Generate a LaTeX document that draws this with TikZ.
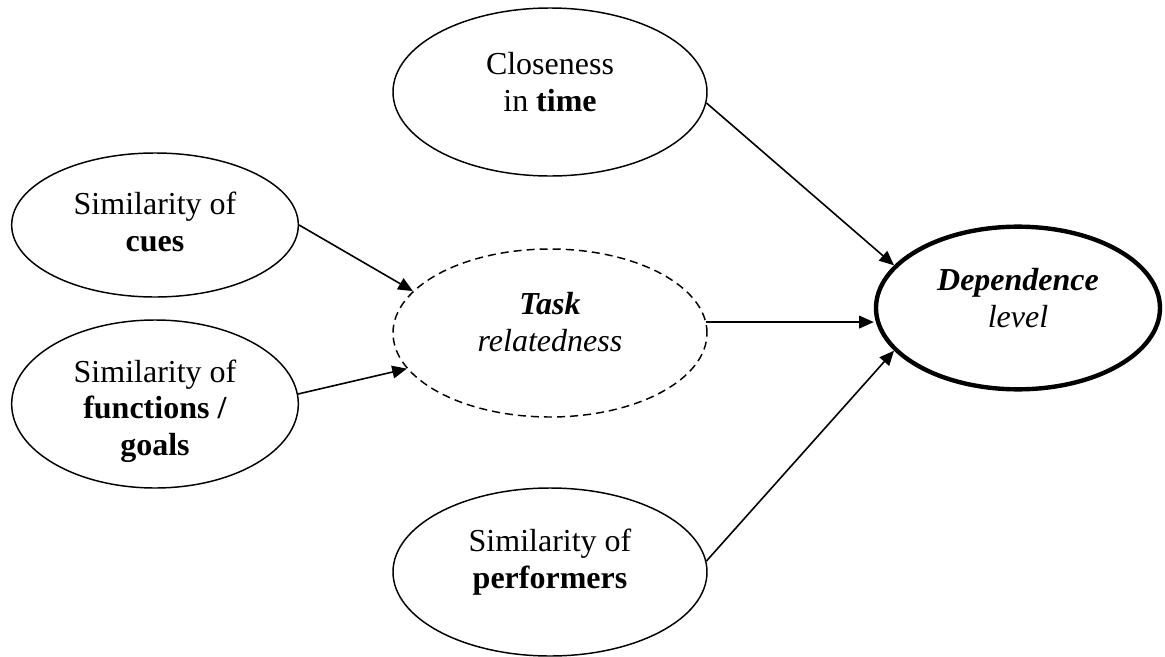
\documentclass[tikz,border=0pt]{standalone}
\usepackage{fontspec}
\setmainfont{Liberation Serif}
\usetikzlibrary{arrows.meta,shapes.geometric}
\begin{document}
\begin{tikzpicture}[x=0.75pt,y=-0.75pt,
  oval/.style={ellipse,draw,line width=1.1pt,inner sep=0pt},
  lbl/.style={align=center,font=\fontsize{24}{27.5}\selectfont,inner sep=0pt},
  conn/.style={line width=1.2pt,-{Triangle[length=11pt,width=9.5pt]}}]
\useasboundingbox (0,0) rectangle (1165,657);
% ellipses
\node[oval,minimum width=235.5pt,minimum height=126pt] (close) at (550,92) {};
\node[oval,minimum width=215pt,minimum height=108pt] (cues) at (155,225) {};
\node[oval,minimum width=215pt,minimum height=126pt] (func) at (155,404) {};
\node[oval,dash pattern=on 6pt off 3.8pt,minimum width=235.5pt,minimum height=126pt] (task) at (550,333) {};
\node[oval,line width=3.3pt,minimum width=213pt,minimum height=122pt] (dep) at (1018,308) {};
\node[oval,minimum width=235.5pt,minimum height=126pt] (perf) at (550,572) {};
% texts
\node[lbl] (closeT) at (550,82) {Closeness\\in \textbf{time}};
\node[lbl] (cuesT) at (155,222) {Similarity of\\\textbf{cues}};
\node[lbl] (funcT) at (155,411) {Similarity of\\\textbf{functions /}\\\textbf{goals}};
\node[lbl] (taskT) at (550,322) {\textbf{\textit{Task}}\\\textit{relatedness}};
\node[lbl] (depT) at (1018,298) {\textbf{\textit{Dependence}}\\\textit{level}};
\node[lbl] (perfT) at (550,562) {Similarity of\\\textbf{performers}};
% connectors
\draw[conn] (cues.east) -- (task.163.7);
\draw[conn] (func.4.4) -- (task.194.8);
\draw[conn] (task.4.8) -- (task.4.8 -| dep.west);
\draw[conn] (close.-4) -- (dep.161.2);
\draw[conn] (perf.4.4) -- (dep.199.6);
\end{tikzpicture}
\end{document}
